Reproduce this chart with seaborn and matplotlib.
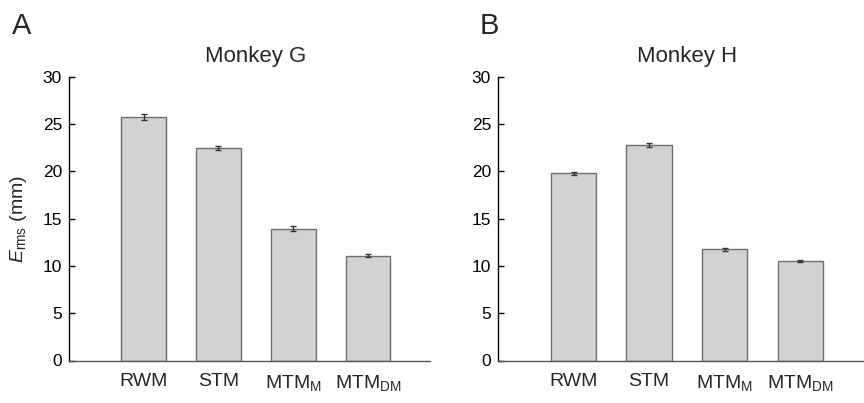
import pandas as pd
import seaborn as sns
import matplotlib.pyplot as plt

# values
conditions = ["RWM", "STM", "MTM$_{\\rm M}$", "MTM$_{\\rm DM}$"]
monkey_g = [25.75, 22.5, 13.95, 11.1]
monkey_g_err = [0.3, 0.2, 0.25, 0.15]
monkey_h = [19.8, 22.8, 11.75, 10.55]
monkey_h_err = [0.18, 0.2, 0.17, 0.13]

sns.set_style("white")
plt.rcParams["font.family"] = ["Liberation Sans", "DejaVu Sans"]
plt.rcParams["mathtext.fontset"] = "custom"
plt.rcParams["mathtext.rm"] = "Liberation Sans"
plt.rcParams["mathtext.it"] = "Liberation Sans:italic"

fig = plt.figure(figsize=(8.64, 4.03), dpi=100)
ax1 = fig.add_axes([69 / 864, 42.5 / 403, 361 / 864, 283.5 / 403])
ax2 = fig.add_axes([498 / 864, 42.5 / 403, 365 / 864, 283.5 / 403])

panels = [
    (ax1, monkey_g, monkey_g_err, "Monkey G", "A"),
    (ax2, monkey_h, monkey_h_err, "Monkey H", "B"),
]

for ax, vals, errs, title, letter in panels:
    df = pd.DataFrame({"cond": conditions, "val": vals})
    sns.barplot(data=df, x="cond", y="val", ax=ax, color="#d1d2d4",
                edgecolor="#6e6e6e", linewidth=1.0, width=0.6,
                saturation=1, errorbar=None)
    ax.errorbar(range(len(vals)), vals, yerr=errs, fmt="none",
                ecolor="#333333", elinewidth=1, capsize=2.5, capthick=1)

    ax.set_xlim(-1, 3.83)
    ax.set_ylim(0, 30)
    ax.set_yticks([0, 5, 10, 15, 20, 25, 30])
    ax.set_xlabel("")
    ax.set_ylabel("")
    ax.tick_params(axis="y", direction="in", length=4, width=1,
                   labelsize=12.5, pad=5, left=True, colors="black")
    ax.tick_params(axis="x", length=0, labelsize=14, pad=9)
    for s in ["top", "right"]:
        ax.spines[s].set_visible(False)
    ax.spines["left"].set_color("black")
    ax.spines["bottom"].set_color("#555555")
    ax.spines["left"].set_linewidth(1)
    ax.spines["bottom"].set_linewidth(1)

    ax.text(1.5, 31.6, title, ha="center", va="baseline", fontsize=16)
    bbox = ax.get_position()
    fig.text(bbox.x0 - 57 / 864 if letter == "A" else bbox.x0 - 18 / 864,
             1 - 34 / 403, letter, fontsize=21, va="baseline", ha="left")

ax1.set_ylabel("$E_{\\rm rms}$ (mm)", fontsize=14, labelpad=10)

fig.savefig("out.png", dpi=100)
